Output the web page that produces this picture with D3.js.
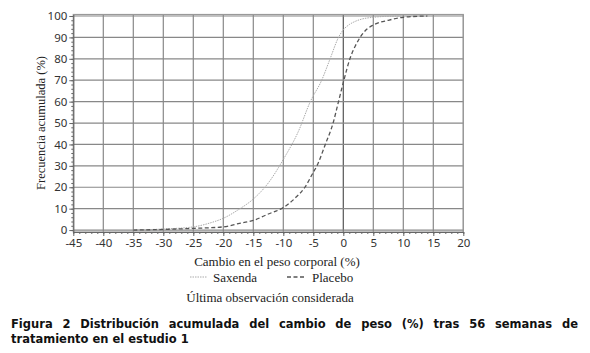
<!DOCTYPE html>
<html>
<head>
<meta charset="utf-8">
<script src="https://cdn.jsdelivr.net/npm/d3@7"></script>
<style>
  body { margin: 0; background: #fff; }
  #container { position: relative; width: 590px; height: 353px; }
  .caption {
    position: absolute; left: 11px; width: 567px;
    font-family: "DejaVu Sans", Verdana, sans-serif; font-weight: bold;
    font-size: 11.5px; line-height: 15px; color: #111; white-space: nowrap;
  }
  #caption1 { top: 317px; text-align: justify; text-align-last: justify; }
  #caption2 { top: 332px; }
</style>
</head>
<body>
<div id="container">
  <div id="canvas"></div>
  <div class="caption" id="caption1">Figura 2 Distribución acumulada del cambio de peso (%) tras 56 semanas de</div>
  <div class="caption" id="caption2">tratamiento en el estudio 1</div>
</div>
<script>
"use strict"

/* Data */
let xTicks = [-45, -40, -35, -30, -25, -20, -15, -10, -5, 0, 5, 10, 15, 20];
let yTicks = [0, 10, 20, 30, 40, 50, 60, 70, 80, 90, 100];

// Saxenda: change in body weight (%) and cumulative frequency (%)
let saxendaX = [-35, -30, -25, -22, -20, -17.5, -15, -12.5, -10, -7.5, -5.5, -3.6, -2.2, -0.8, 0, 1, 2, 3, 5, 7, 10];
let saxendaY = [0, 0.5, 1.5, 3.5, 5.5, 9.5, 14.5, 22, 33, 46, 60, 70, 80, 90, 93.5, 96, 97.5, 98.5, 99.4, 99.8, 100];

// Placebo
let placeboX = [-35, -30, -25, -20, -17.5, -15, -12.5, -10, -8, -6.4, -5, -4.4, -3, -1.7, -0.8, 0.1, 1.1, 2, 2.8, 4, 5, 7.5, 10, 14];
let placeboY = [0, 0.3, 0.8, 1.5, 3, 4.5, 7.5, 10.5, 15, 20, 27, 30, 40, 50, 60, 70, 80, 86, 90, 94, 95.8, 98, 99.4, 100];

/* Drawing configuration */
let svgWidth = 590;
let svgHeight = 312;
let plotLeft = 73.3;
let plotRight = 463.3;
let plotTop = 14.5;
let plotBottom = 232;

let svg = d3.select("#canvas")
    .append("svg")
    .attr("width", svgWidth)
    .attr("height", svgHeight)
    .style("display", "block");

let xScale = d3.scaleLinear()
    .domain([-45, 20])
    .range([plotLeft, plotRight]);

let yScale = d3.scaleLinear()
    .domain([-0.9, 100.7])
    .range([plotBottom, plotTop]);

/* Grid lines */
svg.append("g")
    .selectAll("line")
    .data(xTicks.slice(1))
    .join("line")
    .attr("x1", d => xScale(d))
    .attr("x2", d => xScale(d))
    .attr("y1", plotTop)
    .attr("y2", plotBottom)
    .attr("stroke", d => d === 0 ? "#555" : "#888")
    .attr("stroke-width", 1.2);

svg.append("g")
    .selectAll("line")
    .data(yTicks)
    .join("line")
    .attr("x1", plotLeft)
    .attr("x2", plotRight)
    .attr("y1", d => yScale(d))
    .attr("y2", d => yScale(d))
    .attr("stroke", "#888")
    .attr("stroke-width", 1.2);

/* Frame */
svg.append("rect")
    .attr("x", plotLeft)
    .attr("y", plotTop)
    .attr("width", plotRight - plotLeft)
    .attr("height", plotBottom - plotTop)
    .attr("fill", "none")
    .attr("stroke", "#999")
    .attr("stroke-width", 1.2);

/* Axes */
let tickFont = "'Noto Sans', 'Open Sans', sans-serif";

let xAxis = svg.append("g")
    .attr("transform", "translate(0," + plotBottom + ")")
    .call(d3.axisBottom(xScale).tickValues(xTicks).tickSize(4).tickSizeOuter(0).tickFormat(d => String(d)));

let xMinor = svg.append("g")
    .attr("transform", "translate(0," + plotBottom + ")")
    .call(d3.axisBottom(xScale).ticks(65).tickSize(2).tickFormat(""));

let yAxis = svg.append("g")
    .attr("transform", "translate(" + plotLeft + ",0)")
    .call(d3.axisLeft(yScale).tickValues(yTicks).tickSize(4).tickSizeOuter(0).tickFormat(d => String(d)));

let yMinor = svg.append("g")
    .attr("transform", "translate(" + plotLeft + ",0)")
    .call(d3.axisLeft(yScale).tickValues(d3.range(0, 101, 2)).tickSize(2).tickFormat(""));

[xAxis, xMinor, yAxis, yMinor].forEach(g => {
    g.select(".domain").attr("stroke", "#666").attr("stroke-width", 1.2);
    g.selectAll(".tick line").attr("stroke", "#666");
});
xMinor.select(".domain").remove();
yMinor.select(".domain").remove();

xAxis.selectAll("text")
    .attr("y", 7)
    .attr("font-family", tickFont)
    .attr("font-size", 11.5)
    .attr("fill", "#333");

yAxis.selectAll("text")
    .attr("x", -6)
    .attr("font-family", tickFont)
    .attr("font-size", 11.5)
    .attr("fill", "#333");

/* Curves */
let line = d3.line()
    .x(d => xScale(d[0]))
    .y(d => yScale(d[1]))
    .curve(d3.curveMonotoneX);

svg.append("path")
    .datum(d3.zip(saxendaX, saxendaY))
    .attr("d", line)
    .attr("fill", "none")
    .attr("stroke", "#aaa")
    .attr("stroke-width", 1)
    .attr("stroke-dasharray", "1.5,1");

svg.append("path")
    .datum(d3.zip(placeboX, placeboY))
    .attr("d", line)
    .attr("fill", "none")
    .attr("stroke", "#555")
    .attr("stroke-width", 1.3)
    .attr("stroke-dasharray", "4,2.5");

/* Axis titles */
let serif = "'Liberation Serif', 'DejaVu Serif', serif";

svg.append("text")
    .attr("transform", "translate(42,123) rotate(-90)")
    .attr("text-anchor", "middle")
    .attr("dominant-baseline", "middle")
    .attr("font-family", serif)
    .attr("font-size", 12.5)
    .attr("fill", "#222")
    .text("Frecuencia acumulada (%)");

svg.append("text")
    .attr("x", 277)
    .attr("y", 266)
    .attr("text-anchor", "middle")
    .attr("font-family", serif)
    .attr("font-size", 13)
    .attr("fill", "#222")
    .text("Cambio en el peso corporal (%)");

/* Legend */
let legendY = 277;
let legend = [
    { name: "Saxenda", x1: 190, x2: 207, tx: 213, color: "#aaa", dash: "1.5,1", width: 1 },
    { name: "Placebo", x1: 287, x2: 306, tx: 312, color: "#555", dash: "4,2.5", width: 1.3 }
];

svg.selectAll("line.key")
    .data(legend)
    .join("line")
    .attr("class", "key")
    .attr("x1", d => d.x1)
    .attr("x2", d => d.x2)
    .attr("y1", legendY)
    .attr("y2", legendY)
    .attr("stroke", d => d.color)
    .attr("stroke-width", d => d.width)
    .attr("stroke-dasharray", d => d.dash);

svg.selectAll("text.key")
    .data(legend)
    .join("text")
    .attr("class", "key")
    .attr("x", d => d.tx)
    .attr("y", legendY + 4.5)
    .attr("font-family", serif)
    .attr("font-size", 13)
    .attr("fill", "#222")
    .text(d => d.name);

svg.append("text")
    .attr("x", 270)
    .attr("y", 302)
    .attr("text-anchor", "middle")
    .attr("font-family", serif)
    .attr("font-size", 13)
    .attr("fill", "#222")
    .text("Última observación considerada");
</script>
</body>
</html>
